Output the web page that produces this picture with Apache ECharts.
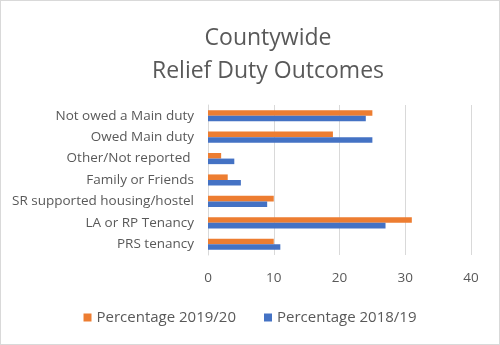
<!DOCTYPE html>
<html><head><meta charset="utf-8">
<script src="https://cdn.jsdelivr.net/npm/echarts@6/dist/echarts.min.js"></script>
<style>html,body{margin:0;padding:0;background:#fff}#c{width:500px;height:345px;box-sizing:border-box;border:1px solid #d9d9d9}</style>
</head><body><div id="c"></div>
<script>
const categories = ["PRS tenancy","LA or RP Tenancy","SR supported housing/hostel","Family or Friends","Other/Not reported ","Owed Main duty","Not owed a Main duty"];
const pct2019 = [10,31,10,3,2,19,25];
const pct2018 = [11,27,9,5,4,25,24];
const xTicks = [0,10,20,30,40];
const chart = echarts.init(document.getElementById('c'));
const font = 'Open Sans';
chart.setOption({
  animation:false,
  title:{text:'Countywide\nRelief Duty Outcomes',left:262,textAlign:'center',top:16,textStyle:{fontFamily:font,fontSize:23,fontWeight:'normal',color:'#595959',lineHeight:33}},
  legend:{bottom:14,left:'center',itemWidth:8,itemHeight:8,itemGap:28,icon:'rect',textStyle:{fontFamily:font,fontSize:15,color:'#595959'},data:['Percentage 2019/20','Percentage 2018/19']},
  grid:{left:207,right:28,top:104,bottom:89,containLabel:false},
  xAxis:{type:'value',min:xTicks[0],max:xTicks[xTicks.length-1],interval:10,axisLine:{show:false},axisTick:{show:false},
    splitLine:{lineStyle:{color:'#d9d9d9',width:1}},axisLabel:{fontFamily:font,fontSize:13.5,color:'#595959',margin:16}},
  yAxis:{type:'category',data:categories,axisTick:{show:false},axisLine:{lineStyle:{color:'#d9d9d9'}},
    axisLabel:{fontFamily:font,fontSize:13.5,color:'#595959',margin:14}},
  series:[
    {name:'Percentage 2019/20',type:'bar',data:pct2019,itemStyle:{color:'#ed7d31'},barGap:'0%',barCategoryGap:'48%'},
    {name:'Percentage 2018/19',type:'bar',data:pct2018,itemStyle:{color:'#4472c4'},barGap:'0%',barCategoryGap:'48%'}
  ]
});
</script></body></html>
